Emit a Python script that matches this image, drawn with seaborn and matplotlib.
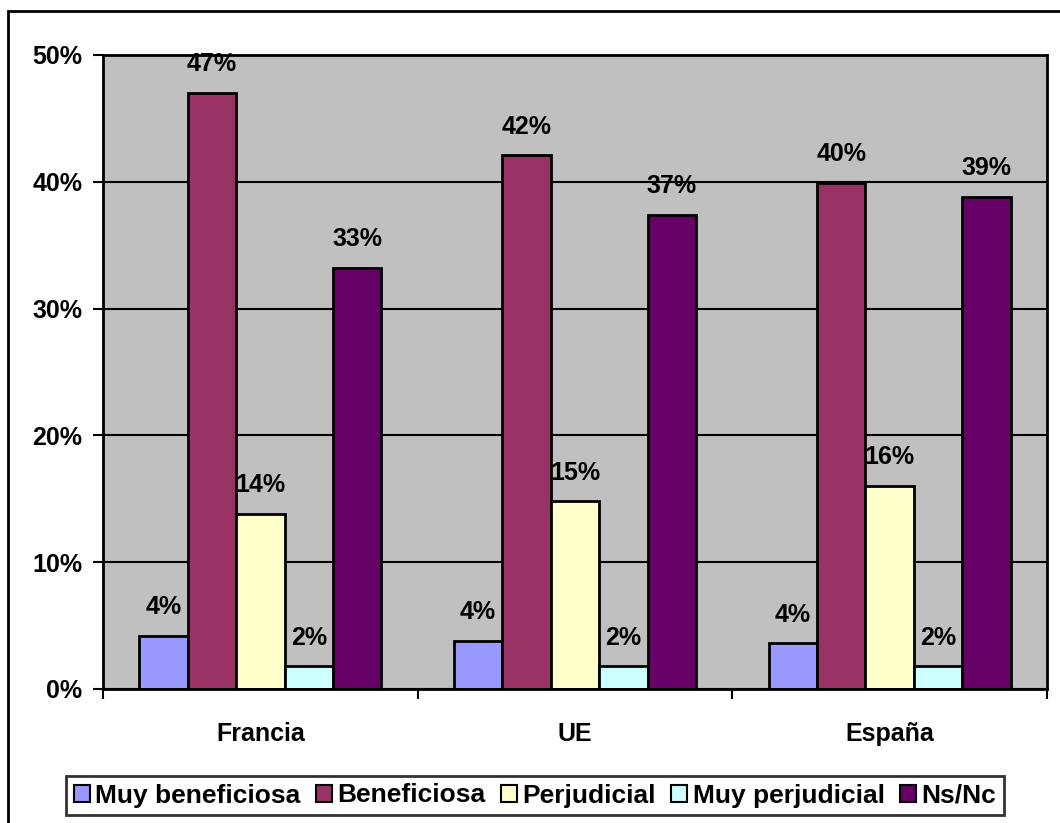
import pandas as pd
import numpy as np
import matplotlib
matplotlib.use("Agg")
import matplotlib.pyplot as plt
import seaborn as sns
from matplotlib.patches import Rectangle

regiones = ["Francia", "UE", "España"]
opiniones = ["Muy beneficiosa", "Beneficiosa", "Perjudicial", "Muy perjudicial", "Ns/Nc"]
muy_beneficiosa = [4.2, 3.8, 3.6]
beneficiosa = [47.0, 42.1, 39.9]
perjudicial = [13.8, 14.8, 16.0]
muy_perjudicial = [1.8, 1.8, 1.8]
ns_nc = [33.2, 37.4, 38.8]
colores = ["#9999FF", "#993366", "#FFFFCC", "#CCFFFF", "#660066"]
y_ticks = [0, 10, 20, 30, 40, 50]

series = [muy_beneficiosa, beneficiosa, perjudicial, muy_perjudicial, ns_nc]
rows = []
for op, vals in zip(opiniones, series):
    for reg, v in zip(regiones, vals):
        rows.append({"region": reg, "opinion": op, "valor": v})
df = pd.DataFrame(rows)

sns.set_style("white")
plt.rcParams["font.family"] = ["Liberation Sans", "DejaVu Sans"]
plt.rcParams["font.weight"] = "bold"
plt.rcParams["text.color"] = "black"
plt.rcParams["xtick.color"] = "black"
plt.rcParams["ytick.color"] = "black"

fig = plt.figure(figsize=(10.6, 8.23), dpi=100)
ax = fig.add_axes([103 / 1060, 1 - 689 / 823, 944 / 1060, 634 / 823])

sns.barplot(data=df, x="region", y="valor", hue="opinion", order=regiones,
            hue_order=opiniones, palette=colores, width=0.77, gap=0,
            edgecolor="black", linewidth=2, saturation=1, ax=ax, legend=False)

for cont in ax.containers:
    ax.bar_label(cont, labels=[f"{v:.0f}%" for v in cont.datavalues],
                 padding=12, fontsize=18, fontweight="bold", color="black")

ax.set_facecolor("#C0C0C0")
ax.set_ylim(0, 50)
ax.set_xlim(-0.5, 2.5)
ax.set_yticks(y_ticks)
ax.set_yticklabels([f"{t}%" for t in y_ticks], fontsize=18, fontweight="bold")
ax.yaxis.grid(True, color="black", linewidth=1.5)
ax.set_axisbelow(True)

ax.set_xticks([-0.5, 0.5, 1.5, 2.5])
ax.set_xticklabels([])
ax.set_xticks([0, 1, 2], minor=True)
ax.set_xticklabels(regiones, minor=True, fontsize=18, fontweight="bold")
ax.tick_params(axis="x", which="minor", length=0, pad=24)
ax.tick_params(axis="both", which="major", length=7, width=1.5, color="black",
               direction="out", left=True, bottom=True, pad=8)
ax.set_xlabel("")
ax.set_ylabel("")
for s in ax.spines.values():
    s.set_color("black")
    s.set_linewidth(2)

handles = [Rectangle((0, 0), 1, 1, facecolor=c, edgecolor="black", linewidth=1.5)
           for c in colores]
leg = fig.legend(handles, opiniones, loc="center", ncol=5,
                 bbox_to_anchor=(535 / 1060, 1 - 795.5 / 823),
                 prop={"size": 19, "weight": "bold"}, frameon=True,
                 fancybox=False, edgecolor="black", handlelength=0.6,
                 handleheight=0.6, handletextpad=0.2, columnspacing=0.6,
                 borderpad=0.3)
leg.get_frame().set_linewidth(2)

fig.patches.append(Rectangle((8 / 1060, -0.05), 1.2, 1 - 11 / 823 + 0.05,
                             transform=fig.transFigure, fill=False,
                             edgecolor="black", linewidth=2))

fig.savefig("out.png", dpi=100, facecolor="white")
